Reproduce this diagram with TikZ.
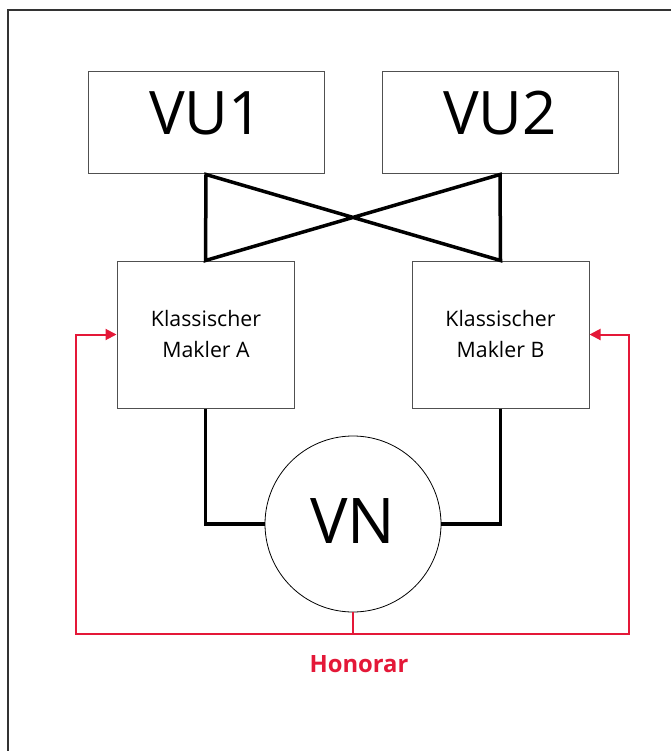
\documentclass[tikz,border=0pt]{standalone}
\usepackage{fontspec}
\setmainfont{Open Sans}
\usetikzlibrary{arrows.meta}
\definecolor{hred}{RGB}{228,24,56}
\definecolor{boxgray}{RGB}{80,80,80}
\begin{document}
\begin{tikzpicture}[x=1pt,y=-1pt,
  box/.style={draw=boxgray,line width=1pt,inner sep=0pt,rectangle},
  vubox/.style={box,minimum width=236pt,minimum height=102pt},
  mkbox/.style={box,minimum width=177pt,minimum height=147pt},
  vncircle/.style={draw=black,line width=0.8pt,circle,minimum size=176pt,inner sep=0pt},
  bigtext/.style={font=\fontsize{60}{60}\selectfont,inner sep=0pt,anchor=base},
  mktext/.style={font=\fontsize{21.3}{31}\selectfont,inner sep=0pt,anchor=base},
  thick line/.style={draw=black,line width=3.5pt,line join=miter},
  redline/.style={draw=hred,line width=2pt},
  redarrow/.style={redline,-{Triangle[length=11pt,width=11pt]}}
]
\useasboundingbox (0,0) rectangle (671,751);
% frame
\draw[line width=1.3pt,draw=black!80] (8,751) -- (8,10) -- (671,10);
% boxes
\node[vubox] (vu1) at (206,123) {};
\node[vubox] (vu2) at (500,123) {};
\node[mkbox] (ma) at (205.5,334.5) {};
\node[mkbox] (mb) at (500.5,334.5) {};
\node[vncircle] (vn) at (353,524) {};
% texts
\node[bigtext] (t1) at (206,135) {VU1};
\node[bigtext] (t2) at (500,135) {VU2};
\node[bigtext,font=\fontsize{63}{63}\selectfont] (t3) at (353,543) {VN};
\node[mktext] (ka) at (206,326) {Klassischer};
\node[mktext] (kb) at (206,357) {Makler A};
\node[mktext] (kc) at (500.5,326) {Klassischer};
\node[mktext] (kd) at (500.5,357) {Makler B};
\node[inner sep=0pt,anchor=base,text=hred,font=\fontsize{23.8}{24}\selectfont\bfseries] (hon) at (359,672.7) {Honorar};
% black connectors
\draw[thick line] (ma.north) -- (vu1.south) -- (mb.north) -- (vu2.south) -- cycle;
\draw[thick line] (ma.south) |- (vn.west);
\draw[thick line] (mb.south) |- (vn.east);
% red connectors
\coordinate (hub) at (353,634);
\coordinate (la) at (76,334.5);
\coordinate (lb) at (629,334.5);
\draw[redline] (vn.south) -- (hub);
\draw[redarrow] (hub) -| (la) -- (ma.west);
\draw[redarrow] (hub) -| (lb) -- (mb.east);
\end{tikzpicture}
\end{document}
